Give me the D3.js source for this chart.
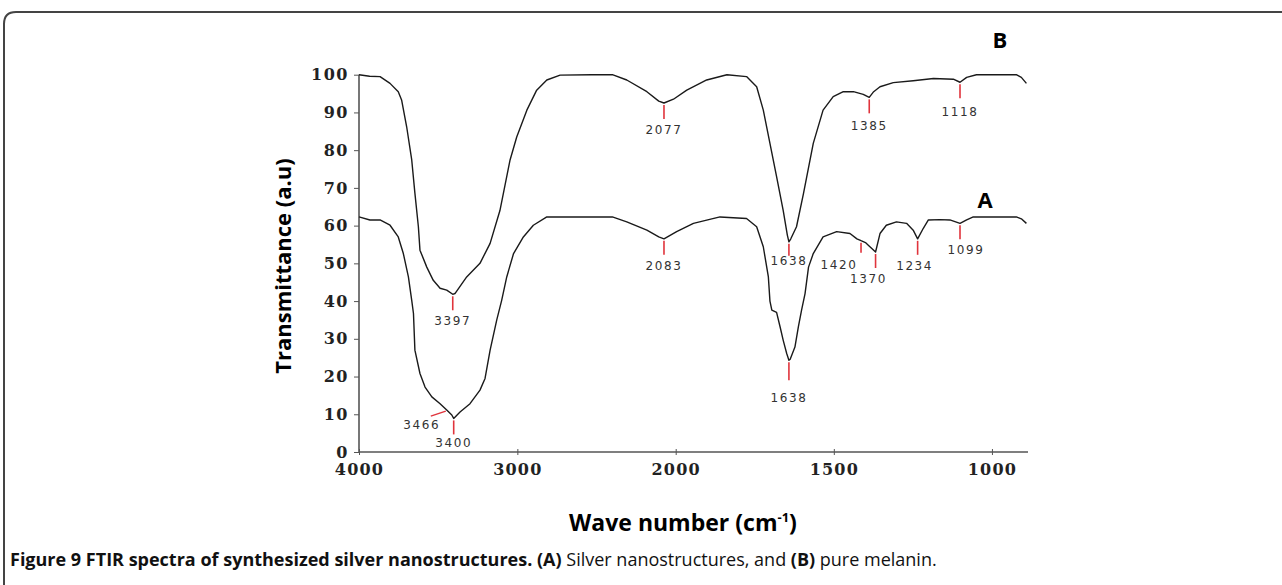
<!DOCTYPE html>
<html>
<head>
<meta charset="utf-8">
<script src="https://cdn.jsdelivr.net/npm/d3@7"></script>
<style>
  body { margin: 0; background: #fff; }
  svg { display: block; }
</style>
</head>
<body>
<svg width="1282" height="585"></svg>
<script>
// spectrum B (pure melanin) - wave number / transmittance
var wnB = [4000, 3933, 3867, 3804, 3752, 3731, 3699, 3667, 3647, 3625, 3615, 3572, 3531, 3488, 3446, 3408, 3394, 3320, 3236, 3172, 3110, 3046, 3004, 2940, 2878, 2814, 2730, 2534, 2400, 2309, 2182, 2107, 2074, 2014, 1965, 1902, 1838, 1776, 1744, 1723, 1702, 1681, 1660, 1647, 1642, 1636, 1618, 1596, 1565, 1534, 1502, 1470, 1438, 1407, 1388, 1374, 1354, 1312, 1249, 1185, 1122, 1101, 1080, 1049, 923, 907, 891];
var tB = [100, 99.6, 99.5, 97.7, 95.5, 93.3, 86.2, 77.4, 68.6, 59.7, 53.5, 49, 45.5, 43.4, 42.9, 41.8, 42, 46.4, 50, 55.3, 64, 77.4, 83.5, 90.6, 95.9, 98.6, 99.9, 100, 100, 98.6, 95.5, 93, 92.5, 93.5, 95.9, 98.6, 100, 99.5, 96.8, 90.6, 81.8, 73, 64, 57.5, 55.7, 56.5, 59.7, 68.5, 81.8, 90.6, 94.2, 95.5, 95.5, 94.8, 94, 95.5, 96.8, 97.9, 98.4, 99, 98.8, 98, 99.3, 100, 100, 99.3, 97.7];

// spectrum A (silver nanostructures)
var wnA = [4000, 3931, 3867, 3804, 3752, 3720, 3688, 3667, 3656, 3647, 3615, 3583, 3540, 3488, 3446, 3414, 3402, 3362, 3299, 3236, 3204, 3172, 3130, 3099, 3067, 3024, 2962, 2899, 2814, 2400, 2309, 2182, 2107, 2074, 1997, 1944, 1860, 1776, 1744, 1723, 1707, 1702, 1696, 1681, 1670, 1660, 1649, 1642, 1638, 1623, 1612, 1602, 1591, 1580, 1565, 1534, 1491, 1449, 1427, 1414, 1400, 1391, 1368, 1354, 1334, 1302, 1270, 1249, 1235, 1217, 1201, 1164, 1133, 1101, 1080, 1059, 923, 907, 891];
var tA = [62.3, 61.5, 61.5, 60.1, 57, 52.6, 46.4, 40.2, 36.7, 27, 20.8, 17.2, 14.6, 12.8, 11.1, 9.8, 8.9, 10.6, 12.8, 16.4, 19.5, 27, 35, 40.2, 46.4, 52.6, 57, 60.1, 62.3, 62.3, 61, 58.8, 57, 56.5, 58.4, 60.6, 62.3, 61.9, 59.7, 54.4, 46.4, 40, 37.6, 37, 33.2, 29.6, 26.1, 24.3, 24.6, 27.8, 33.2, 37.6, 42, 49, 52.6, 57, 58.4, 57.9, 56.5, 56, 55.5, 54.8, 53, 57.9, 60.1, 61, 60.6, 58.8, 56.5, 59.3, 61.5, 61.6, 61.5, 60.6, 61.5, 62.3, 62.3, 61.8, 60.6];

// peak labels and the wave number they point at
var peakLabelsB = ["3397", "2077", "1638", "1385", "1118"];
var peakPosB = [3408, 2074, 1642, 1388, 1101];
var peakLabelsA = ["3400", "2083", "1638", "1420", "1370", "1234", "1099"];
var peakPosA = [3402, 2074, 1642, 1414, 1368, 1235, 1101];

var xTicks = [4000, 3000, 2000, 1500, 1000];
var yTicks = [0, 10, 20, 30, 40, 50, 60, 70, 80, 90, 100];

var svg = d3.select("svg");

// FTIR axis: scale doubles below 2000 cm-1
var x = d3.scaleLinear().domain([4000, 2000, 886]).range([359, 675.7, 1028]);
var y = d3.scaleLinear().domain([0, 100]).range([452, 74.7]);

// frame round the figure
svg.append("path")
  .attr("d", "M4,590 L4,24 Q4,12 16,12 L1290,12")
  .attr("fill", "none")
  .attr("stroke", "#444")
  .attr("stroke-width", 2);

// axes
var xAxis = svg.append("g")
  .attr("transform", "translate(0," + y(0) + ")")
  .call(d3.axisBottom(x).tickValues(xTicks).tickSize(3).tickFormat(d3.format("d")));
xAxis.select(".domain").attr("stroke", "#555").attr("stroke-width", 1.6).attr("d", "M359,0H1028");
xAxis.selectAll(".tick line").attr("stroke", "#555").attr("y1", -3).attr("y2", 3);
xAxis.selectAll(".tick text")
  .attr("y", 12)
  .style("font", "bold 16px 'DejaVu Serif'")
  .style("letter-spacing", "1.2px")
  .attr("fill", "#222");

var yAxis = svg.append("g")
  .attr("transform", "translate(" + x(4000) + ",0)")
  .call(d3.axisLeft(y).tickValues(yTicks).tickSize(5));
yAxis.select(".domain").attr("stroke", "#555").attr("stroke-width", 1.6).attr("d", "M0,74.7V452");
yAxis.selectAll(".tick line").attr("stroke", "#555");
yAxis.selectAll(".tick text")
  .attr("x", -10)
  .style("font", "bold 16px 'DejaVu Serif'")
  .style("letter-spacing", "1.5px")
  .attr("fill", "#222");

// spectra
var line = d3.line()
  .x(function (d) { return x(d[0]); })
  .y(function (d) { return y(d[1]); });

function series(wn, t) {
  return wn.map(function (w, i) { return [w, t[i]]; });
}
var dataB = series(wnB, tB), dataA = series(wnA, tA);

[dataB, dataA].forEach(function (d) {
  svg.append("path")
    .datum(d)
    .attr("d", line)
    .attr("fill", "none")
    .attr("stroke", "#1a1a1a")
    .attr("stroke-width", 1.4)
    .attr("stroke-linejoin", "round");
});

// value of a spectrum at a given wave number
function valueAt(d, w) {
  for (var i = 1; i < d.length; i++) {
    if (d[i][0] <= w) {
      var a = d[i - 1], b = d[i];
      return a[1] + (b[1] - a[1]) * (a[0] - w) / (a[0] - b[0]);
    }
  }
  return d[d.length - 1][1];
}

// small tweaks for individual labels: tick length, gap, label shift
var tweak = {
  "B1638": { len: 12, gap: 9 },
  "B1385": { gap: 17 },
  "B1118": { gap: 18 },
  "A1638": { len: 18, gap: 22 },
  "A1420": { len: 10, gap: 16, dx: -22 },
  "A1370": { dx: -7 },
  "A1234": { dx: -3 },
  "A1099": { dx: 6 },
  "A3400": { gap: 13 }
};

function drawPeaks(d, labels, pos, key) {
  labels.forEach(function (lab, i) {
    var o = tweak[key + lab] || {};
    var len = o.len || 14, gap = o.gap || 15, dx = o.dx || 0;
    var px = x(pos[i]);
    var top = y(valueAt(d, pos[i])) + 2;
    svg.append("line")
      .attr("x1", px).attr("x2", px)
      .attr("y1", top).attr("y2", top + len)
      .attr("stroke", "#e0343c")
      .attr("stroke-width", 1.6);
    svg.append("text")
      .attr("x", px + dx)
      .attr("y", top + len + gap)
      .attr("text-anchor", "middle")
      .style("font", "12px 'DejaVu Sans'")
      .style("letter-spacing", "1.6px")
      .attr("fill", "#333")
      .text(lab);
  });
}
drawPeaks(dataB, peakLabelsB, peakPosB, "B");
drawPeaks(dataA, peakLabelsA, peakPosA, "A");

// the 3466 shoulder on A has a slanted pointer
var sh = 3452;
svg.append("line")
  .attr("x1", x(sh)).attr("y1", y(valueAt(dataA, sh)) + 2)
  .attr("x2", x(sh) - 15).attr("y2", y(valueAt(dataA, sh)) + 7)
  .attr("stroke", "#e0343c")
  .attr("stroke-width", 1.4);
svg.append("text")
  .attr("x", x(sh) - 24)
  .attr("y", y(valueAt(dataA, sh)) + 20)
  .attr("text-anchor", "middle")
  .style("font", "12px 'DejaVu Sans'")
  .style("letter-spacing", "1.6px")
  .attr("fill", "#333")
  .text("3466");

// series letters
svg.append("text").attr("x", 1000).attr("y", 48).attr("text-anchor", "middle")
  .style("font", "bold 22px 'Open Sans'").text("B");
svg.append("text").attr("x", 985).attr("y", 208).attr("text-anchor", "middle")
  .style("font", "bold 22px 'Open Sans'").text("A");

// axis titles
svg.append("text")
  .attr("transform", "translate(291,266) rotate(-90)")
  .attr("text-anchor", "middle")
  .style("font", "bold 22px 'Open Sans'")
  .text("Transmittance (a.u)");

var xt = svg.append("text")
  .attr("x", 683).attr("y", 531)
  .attr("text-anchor", "middle")
  .style("font", "bold 23px 'Open Sans'");
xt.append("tspan").text("Wave number (cm");
xt.append("tspan").attr("dy", -9).style("font-size", "13px").text("-1");
xt.append("tspan").attr("dy", 9).text(")");

// caption
var cap = svg.append("text")
  .attr("x", 10).attr("y", 566)
  .style("font", "18px 'Open Sans'")
  .attr("fill", "#111");
cap.append("tspan").style("font-weight", "bold").text("Figure 9 FTIR spectra of synthesized silver nanostructures. (A)");
cap.append("tspan").text(" Silver nanostructures, and ");
cap.append("tspan").style("font-weight", "bold").text("(B)");
cap.append("tspan").text(" pure melanin.");
</script>
</body>
</html>
